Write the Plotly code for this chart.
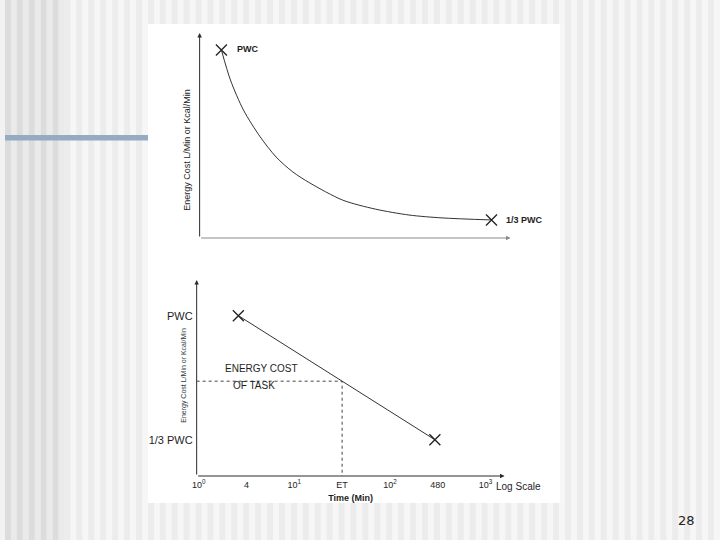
import plotly.graph_objects as go

# ---------------- data ----------------
# Top diagram: energy cost vs time (arbitrary units, schematic)
curve_time = [7.0, 9.9, 14.1, 19.5, 24.6, 30.0, 35.5, 46.0, 56.5, 67.4, 78.0, 93.9]
curve_energy = [91.7, 77.1, 62.4, 49.3, 39.5, 32.2, 26.8, 18.5, 14.1, 11.2, 9.8, 8.8]
top_labels = ["PWC", "1/3 PWC"]

# Bottom diagram: energy cost vs log time (schematic tick positions)
time_tick_pos = [0, 1, 2, 3, 4, 5, 6]
time_tick_labels = ["10<sup>0</sup>", "4", "10<sup>1</sup>", "ET", "10<sup>2</sup>", "480", "10<sup>3</sup>"]
line_time = [0.83, 4.94]          # positions of the 4 min and 480 min marks
line_energy = [81.8, 18.5]        # PWC and 1/3 PWC levels
energy_tick_labels = ["PWC", "1/3 PWC"]
et_pos = 3.0                      # ET position on the time axis
task_energy = line_energy[0] + (et_pos - line_time[0]) * (line_energy[1] - line_energy[0]) / (line_time[1] - line_time[0])

W, H = 720, 540
def px(x):
    return x / W
def py(y):
    return 1 - y / H

AX = "#2b2b2b"
TXT = "#1e1e1e"
FONT = "Liberation Sans"

fig = go.Figure()

# top curve
fig.add_trace(go.Scatter(x=curve_time, y=curve_energy, mode="lines",
                         line=dict(color="#333333", width=1, shape="spline", smoothing=0.8),
                         xaxis="x", yaxis="y", hoverinfo="skip", showlegend=False))
fig.add_trace(go.Scatter(x=[curve_time[0], curve_time[-1]], y=[curve_energy[0], curve_energy[-1]],
                         mode="markers",
                         marker=dict(symbol="x-thin-open", size=11, color="#222222",
                                     line=dict(color="#222222", width=1.3)),
                         xaxis="x", yaxis="y", hoverinfo="skip", showlegend=False))

# bottom line
x2_range = [-0.042, 6.396]
fig.add_trace(go.Scatter(x=line_time, y=line_energy, mode="lines",
                         line=dict(color="#333333", width=1),
                         xaxis="x2", yaxis="y2", hoverinfo="skip", showlegend=False))
fig.add_trace(go.Scatter(x=line_time, y=line_energy, mode="markers",
                         marker=dict(symbol="x-thin-open", size=11, color="#222222",
                                     line=dict(color="#222222", width=1.3)),
                         xaxis="x2", yaxis="y2", hoverinfo="skip", showlegend=False))
# dotted guides
fig.add_trace(go.Scatter(x=[x2_range[0], et_pos, et_pos], y=[task_energy, task_energy, 0],
                         mode="lines", line=dict(color="#444444", width=1, dash="dot"),
                         xaxis="x2", yaxis="y2", hoverinfo="skip", showlegend=False))

# ---------------- background shapes ----------------
shapes = []
for x0 in range(0, W, 12):
    if x0 < 54:
        c1, c2 = "#dcdcdc", "#eaeaea"
    else:
        c1, c2 = "#ececec", "#f6f6f6"
    shapes.append(dict(type="rect", xref="paper", yref="paper", x0=px(x0), x1=px(x0 + 6),
                       y0=0, y1=1, fillcolor=c1, line=dict(width=0), layer="below"))
    shapes.append(dict(type="rect", xref="paper", yref="paper", x0=px(x0 + 6), x1=px(x0 + 12),
                       y0=0, y1=1, fillcolor=c2, line=dict(width=0), layer="below"))
shapes.append(dict(type="rect", xref="paper", yref="paper", x0=px(144), x1=px(559),
                   y0=py(503), y1=py(24), fillcolor="white", line=dict(width=0), layer="below"))
shapes.append(dict(type="rect", xref="paper", yref="paper", x0=0, x1=px(144),
                   y0=py(140.5), y1=py(135), fillcolor="#95aac3", line=dict(width=0), layer="below"))

annotations = []
arrow = dict(text="", showarrow=True, arrowhead=2, arrowsize=0.9, arrowwidth=1, arrowcolor=AX)
annotations.append(dict(x=100, y=0, ax=0, ay=0, xref="x", yref="y", axref="x", ayref="y",
                        text="", showarrow=True, arrowhead=2, arrowsize=0.9, arrowwidth=1, arrowcolor="#8a8a8a"))
annotations.append(dict(x=0, y=100, ax=0, ay=0, xref="x", yref="y", axref="x", ayref="y", **arrow))
annotations.append(dict(x=x2_range[1], y=0, ax=x2_range[0], ay=0, xref="x2", yref="y2",
                        axref="x2", ayref="y2", **arrow))
annotations.append(dict(x=x2_range[0], y=100, ax=x2_range[0], ay=0, xref="x2", yref="y2",
                        axref="x2", ayref="y2", **arrow))

# top labels
annotations.append(dict(x=11.5, y=curve_energy[0] + 0.5, xref="x", yref="y", text="<b>" + top_labels[0] + "</b>",
                        showarrow=False, xanchor="left", yanchor="middle", font=dict(family=FONT, size=9, color=TXT)))
annotations.append(dict(x=98.0, y=curve_energy[-1], xref="x", yref="y", text="<b>" + top_labels[1] + "</b>",
                        showarrow=False, xanchor="left", yanchor="middle", font=dict(family=FONT, size=9, color=TXT)))
# y titles
annotations.append(dict(x=px(183), y=py(150), xref="paper", yref="paper", text="Energy Cost L/Min or Kcal/Min",
                        textangle=-90, showarrow=False, xanchor="center", yanchor="middle",
                        font=dict(family=FONT, size=9, color=TXT)))
annotations.append(dict(x=px(180), y=py(375), xref="paper", yref="paper", text="Energy Cost L/Min or Kcal/Min",
                        textangle=-90, showarrow=False, xanchor="center", yanchor="middle",
                        font=dict(family=FONT, size=7, color="#2a3a40")))
# bottom texts
annotations.append(dict(x=1.32, y=54.6, xref="x2", yref="y2", text="ENERGY COST",
                        showarrow=False, xanchor="center", yanchor="middle", font=dict(family=FONT, size=10, color=TXT)))
annotations.append(dict(x=1.16, y=46.4, xref="x2", yref="y2", text="OF TASK",
                        showarrow=False, xanchor="center", yanchor="middle", font=dict(family=FONT, size=10, color=TXT)))
annotations.append(dict(x=px(517), y=py(486), xref="paper", yref="paper", text="Log Scale",
                        showarrow=False, xanchor="center", yanchor="middle", font=dict(family=FONT, size=10, color=TXT)))
# page number
annotations.append(dict(x=px(686), y=py(520), xref="paper", yref="paper", text="28",
                        showarrow=False, xanchor="center", yanchor="middle",
                        font=dict(family="DejaVu Sans", size=13, color="#222222")))

blank = dict(showgrid=False, zeroline=False, showline=False, ticks="", fixedrange=True)

fig.update_layout(
    width=W, height=H, margin=dict(l=0, r=0, t=0, b=0),
    paper_bgcolor="#f2f2f2", plot_bgcolor="rgba(0,0,0,0)",
    showlegend=False,
    xaxis=dict(domain=[px(196), px(509)], range=[0, 100], showticklabels=False, anchor="y", **blank),
    yaxis=dict(domain=[py(238), py(33)], range=[0, 100], showticklabels=False, anchor="x", **blank),
    xaxis2=dict(domain=[px(193), px(503)], range=x2_range, anchor="y2",
                tickmode="array", tickvals=time_tick_pos, ticktext=time_tick_labels,
                tickfont=dict(family=FONT, size=9, color=TXT), ticklabelstandoff=2,
                title=dict(text="<b>Time (Min)</b>", standoff=5, font=dict(family=FONT, size=9, color=TXT)),
                **blank),
    yaxis2=dict(domain=[py(476), py(280)], range=[0, 100], anchor="x2",
                tickmode="array", tickvals=line_energy, ticktext=energy_tick_labels,
                tickfont=dict(family=FONT, size=11, color=TXT), ticklabelstandoff=3, **blank),
    shapes=shapes, annotations=annotations,
)

fig.write_html("out.html", config={"displayModeBar": False},
               post_script="document.body.style.margin='0';")
